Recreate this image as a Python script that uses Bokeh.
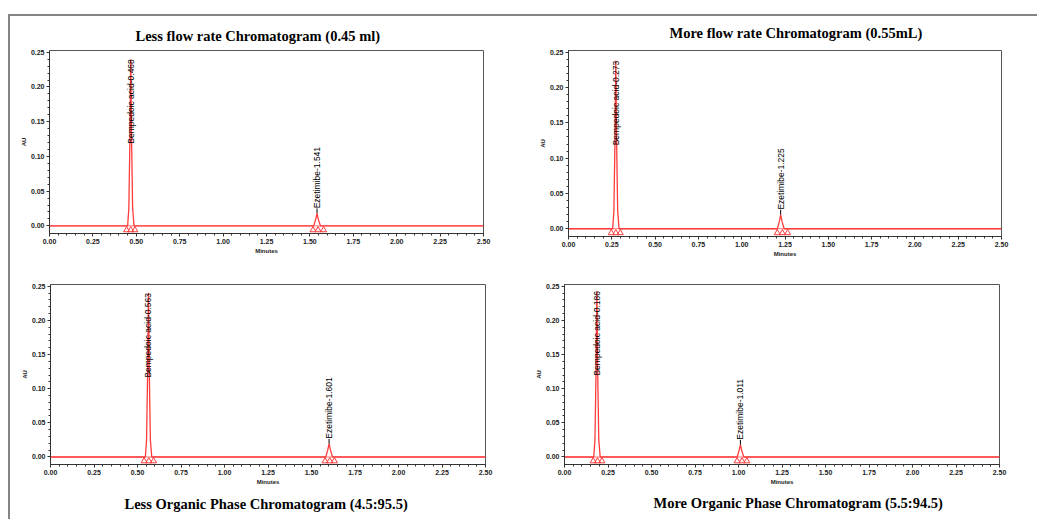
from math import pi
from bokeh.plotting import figure
from bokeh.models import Title, Range1d, FixedTicker, PrintfTickFormatter
from bokeh.layouts import row, column
from bokeh.embed import file_html
from bokeh.resources import INLINE
from bokeh.core.properties import value

# ---------------- data ----------------
titles = [
    "Less flow rate Chromatogram (0.45 ml)",
    "More flow rate Chromatogram (0.55mL)",
    "Less Organic Phase Chromatogram (4.5:95.5)",
    "More Organic Phase Chromatogram (5.5:94.5)",
]
bemp_rt = [0.468, 0.273, 0.563, 0.186]
bemp_h = [0.240, 0.238, 0.240, 0.243]
ezet_rt = [1.541, 1.225, 1.601, 1.011]
ezet_h = [0.018, 0.020, 0.0195, 0.018]

tl_time = [0.000, 0.450, 0.457, 0.463, 0.468, 0.473, 0.479, 0.487, 1.522, 1.533, 1.541, 1.549, 1.561, 2.500]
tl_au = [0.000, 0.000, 0.025, 0.120, 0.240, 0.120, 0.025, 0.000, 0.000, 0.009, 0.018, 0.009, 0.000, 0.000]
tl_marks = [0.444, 0.468, 0.492, 1.518, 1.547, 1.579]

tr_time = [0.000, 0.255, 0.262, 0.268, 0.273, 0.278, 0.284, 0.292, 1.206, 1.217, 1.225, 1.233, 1.245, 2.500]
tr_au = [0.000, 0.000, 0.025, 0.119, 0.238, 0.119, 0.025, 0.000, 0.000, 0.010, 0.020, 0.010, 0.000, 0.000]
tr_marks = [0.247, 0.273, 0.299, 1.205, 1.235, 1.265]

bl_time = [0.000, 0.545, 0.552, 0.558, 0.563, 0.568, 0.574, 0.582, 1.582, 1.593, 1.601, 1.609, 1.621, 2.500]
bl_au = [0.000, 0.000, 0.025, 0.120, 0.240, 0.120, 0.025, 0.000, 0.000, 0.010, 0.0195, 0.010, 0.000, 0.000]
bl_marks = [0.538, 0.565, 0.592, 1.578, 1.605, 1.632]

br_time = [0.000, 0.168, 0.175, 0.181, 0.186, 0.191, 0.197, 0.205, 0.992, 1.003, 1.011, 1.019, 1.031, 2.500]
br_au = [0.000, 0.000, 0.025, 0.121, 0.243, 0.121, 0.025, 0.000, 0.000, 0.009, 0.018, 0.009, 0.000, 0.000]
br_marks = [0.165, 0.190, 0.215, 0.992, 1.020, 1.048]

x_major = [0.0, 0.25, 0.5, 0.75, 1.0, 1.25, 1.5, 1.75, 2.0, 2.25, 2.5]
y_major = [0.0, 0.05, 0.10, 0.15, 0.20, 0.25]

RED = "#ff3b3b"


def make_panel(i, time, au, marks, left, right, top, bottom, fw, fh,
               title_loc, title_offset, title_standoff, title_valign):
    p = figure(frame_width=fw, frame_height=fh,
               x_range=Range1d(0, 2.5), y_range=Range1d(-0.011, 0.2525),
               output_backend="svg", toolbar_location=None,
               min_border_left=left, min_border_right=right,
               min_border_top=top, min_border_bottom=bottom,
               background_fill_color="white", border_fill_color="white")
    p.title = None
    t = Title(text=titles[i], align="left", offset=title_offset,
              standoff=title_standoff, vertical_align=title_valign,
              text_font="Liberation Serif", text_font_style="bold",
              text_font_size="14.5px", text_color="black")
    p.add_layout(t, title_loc)

    p.grid.visible = False
    p.outline_line_color = "#555555"
    p.outline_line_width = 1

    xminor = [k * 0.05 for k in range(51)]
    yminor = [k * 0.01 for k in range(26)]
    p.xaxis.ticker = FixedTicker(ticks=x_major, minor_ticks=xminor)
    p.yaxis.ticker = FixedTicker(ticks=y_major, minor_ticks=yminor)
    p.xaxis.formatter = PrintfTickFormatter(format="%.2f")
    p.yaxis.formatter = PrintfTickFormatter(format="%.2f")
    for ax in (p.xaxis, p.yaxis):
        ax.major_tick_in = 0
        ax.major_tick_out = 3
        ax.minor_tick_in = 0
        ax.minor_tick_out = 2
        ax.axis_line_color = "#333333"
        ax.major_tick_line_color = "#333333"
        ax.minor_tick_line_color = "#333333"
        ax.major_label_text_font = "Liberation Sans"
        ax.major_label_text_font_style = "bold"
        ax.major_label_text_font_size = "7px"
        ax.major_label_text_color = "#222222"
        ax.axis_label_text_font = "Liberation Sans"
        ax.axis_label_text_font_style = "bold"
        ax.axis_label_text_font_size = "6px"
        ax.axis_label_text_color = "#222222"
        ax.major_label_standoff = 2
        ax.axis_label_standoff = 1
    p.xaxis.axis_label = "Minutes"
    p.yaxis.axis_label = "AU"

    # baseline + trace
    p.line(x=[0, 2.5], y=[0, 0], line_color=RED, line_width=1, line_alpha=0.7)
    p.line(x=time, y=au, line_color=RED, line_width=1.3)
    p.scatter(x=marks, y=[-0.006] * len(marks), marker="triangle", size=6,
              line_color=RED, fill_color=None, line_width=1)

    # labels
    p.text(x=[bemp_rt[i]], y=[bemp_h[i]], text=[f"Bempedoic acid-{bemp_rt[i]:.3f}"],
           angle=pi / 2, text_align="right", text_baseline="middle",
           text_font=value("Liberation Sans"), text_font_size="8.5px",
           text_color="black")
    p.segment(x0=[ezet_rt[i]], y0=[ezet_h[i]], x1=[ezet_rt[i]], y1=[ezet_h[i] + 0.007],
              line_color="black", line_width=1)
    p.text(x=[ezet_rt[i]], y=[ezet_h[i]], text=[f"Ezetimibe-{ezet_rt[i]:.3f}"],
           angle=pi / 2, text_align="left", text_baseline="middle", y_offset=-5,
           text_font=value("Liberation Sans"), text_font_size="8.5px",
           text_color="black")
    return p


f1 = make_panel(0, tl_time, tl_au, tl_marks, 39, 37, 33, 30, 434, 183, "above", 86, 9, "top")
f2 = make_panel(1, tr_time, tr_au, tr_marks, 48, 36, 34, 26, 433, 186, "above", 101, 15, "top")
f3 = make_panel(2, bl_time, bl_au, bl_marks, 40, 35, 21, 56, 435, 180, "below", 74, 12, "bottom")
f4 = make_panel(3, br_time, br_au, br_marks, 44, 38, 22, 55, 435, 180, "below", 89, 10, "bottom")

layout = column(row(f1, f2), row(f3, f4),
                styles={"border-top": "2px solid #858585",
                        "border-left": "2px solid #858585"},
                margin=(14, 0, 0, 8))

open("out.html", "w").write(file_html(layout, INLINE))
